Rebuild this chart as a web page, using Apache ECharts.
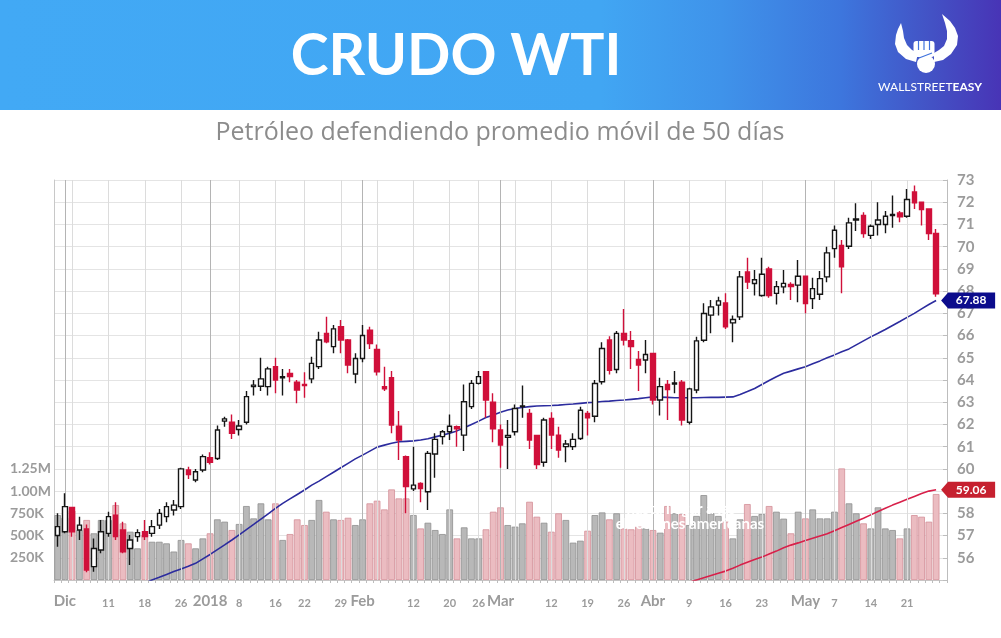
<!DOCTYPE html>
<html><head><meta charset="utf-8">
<script src="https://cdn.jsdelivr.net/npm/echarts@6/dist/echarts.min.js"></script>
<style>html,body{margin:0;padding:0;background:#fff}#c{width:1001px;height:638px}</style>
</head><body><div id="c"></div>
<script>
// ---------- DATA ----------
const dates = ['11-30','12-01','12-04','12-05','12-06','12-07','12-08','12-11','12-12','12-13','12-14','12-15','12-18','12-19','12-20','12-21','12-22','12-26','12-27','12-28','12-29',
'01-02','01-03','01-04','01-05','01-08','01-09','01-10','01-11','01-12','01-16','01-17','01-18','01-19','01-22','01-23','01-24','01-25','01-26','01-29','01-30','01-31',
'02-01','02-02','02-05','02-06','02-07','02-08','02-09','02-12','02-13','02-14','02-15','02-16','02-20','02-21','02-22','02-23','02-26','02-27','02-28',
'03-01','03-02','03-05','03-06','03-07','03-08','03-09','03-12','03-13','03-14','03-15','03-16','03-19','03-20','03-21','03-22','03-23','03-26','03-27','03-28','03-29',
'04-02','04-03','04-04','04-05','04-06','04-09','04-10','04-11','04-12','04-13','04-16','04-17','04-18','04-19','04-20','04-23','04-24','04-25','04-26','04-27','04-30',
'05-01','05-02','05-03','05-04','05-07','05-08','05-09','05-10','05-11','05-14','05-15','05-16','05-17','05-18','05-21','05-22','05-23','05-24','05-25','05-29'];

const openP = [57.0,57.17,58.27,57.25,57.3,55.6,56.35,57.1,57.92,57.25,56.42,56.95,57.17,57.1,57.47,57.85,58.15,58.3,59.95,59.5,59.95,
60.5,60.47,62.15,62.1,61.77,62.1,63.7,63.72,63.7,64.6,64.1,64.3,63.9,63.8,64.05,64.6,66.1,65.5,66.4,65.8,64.27,
64.97,66.24,65.37,63.7,64.1,61.92,60.55,59.1,59.35,58.97,60.67,61.45,61.67,61.9,61.52,62.8,63.85,64.37,63.0,
61.75,61.42,61.67,62.8,62.5,61.5,60.3,62.27,61.52,61.0,61.0,61.37,62.5,62.37,63.92,65.8,64.47,66.1,65.77,64.92,64.9,
65.2,63.1,63.8,63.82,63.9,62.1,63.55,65.79,66.92,67.37,67.47,66.57,66.84,68.86,68.34,67.8,69.0,67.9,68.19,68.3,68.27,
68.67,67.66,67.86,68.64,69.91,70.06,70.02,71.2,71.41,70.51,71.0,71.0,71.4,71.52,71.37,72.46,72.0,71.7,70.59];
const highP = [58.0,58.9,58.3,57.85,57.5,56.87,57.7,58.07,58.5,57.62,57.02,57.28,57.7,57.7,58.2,58.5,58.6,60.05,60.1,60.0,60.65,
60.75,61.95,62.35,62.45,62.2,63.5,64.0,65.0,64.6,65.0,64.5,64.5,64.0,64.35,65.05,66.17,66.85,66.47,66.7,65.85,65.2,
66.47,66.4,65.6,64.6,64.4,62.6,60.6,61.0,59.4,60.8,61.6,61.75,62.45,61.95,63.8,64.0,64.4,64.4,63.4,
62.0,62.2,62.9,63.75,62.7,61.5,62.3,62.55,61.9,61.3,61.6,62.8,62.6,64.0,65.7,65.97,66.2,67.2,66.2,65.3,65.8,
65.2,64.1,64.0,64.4,64.0,63.65,65.95,67.45,67.6,67.75,67.9,66.9,68.9,69.5,68.95,69.5,69.1,68.45,68.95,68.4,69.4,
68.7,68.6,68.9,70.0,70.95,70.3,71.3,71.95,71.55,71.0,72.0,71.6,72.3,71.6,72.6,72.75,72.0,71.7,70.8];
const lowP = [56.5,57.1,56.95,56.8,55.35,55.37,56.2,56.95,56.8,56.2,55.67,56.72,56.8,56.95,57.3,57.6,57.9,58.2,59.55,59.4,59.85,
60.2,60.4,61.9,61.35,61.5,62.0,63.3,63.5,63.3,63.4,63.3,63.9,62.95,63.2,63.85,64.5,65.65,65.2,65.2,64.3,63.85,
64.8,65.4,64.2,63.5,61.6,60.4,58.0,59.0,58.5,58.15,59.6,61.1,61.3,61.0,60.8,62.7,63.8,62.3,61.2,
60.05,60.0,61.5,62.3,60.9,60.0,60.1,60.9,60.5,60.3,60.85,61.3,61.5,62.1,63.8,64.25,64.3,65.55,64.5,63.5,64.3,
62.9,62.4,62.2,63.4,61.95,62.0,63.4,65.7,66.1,66.9,66.3,65.7,66.7,68.1,67.8,67.75,67.7,67.4,67.9,67.6,67.5,
67.0,67.2,67.6,68.4,69.5,67.9,69.9,70.7,70.4,70.35,70.5,70.6,70.85,71.1,71.3,71.7,70.95,70.3,67.75];
const closeP = [57.4,58.3,57.17,57.47,55.45,56.42,57.17,57.85,56.95,56.27,56.8,57.13,56.95,57.4,58.0,58.3,58.37,60.0,59.75,59.87,60.55,
60.3,61.75,62.25,61.6,61.93,63.25,63.77,64.05,64.5,64.0,64.15,64.15,63.55,63.75,64.75,65.8,65.72,66.3,65.8,64.67,64.97,
66.0,65.64,64.37,63.6,61.97,61.3,59.2,59.27,59.12,60.7,61.33,61.67,61.92,61.8,63.02,63.85,64.15,63.1,61.8,
61.07,61.5,62.72,62.83,61.3,60.2,62.2,61.52,60.85,61.12,61.33,62.64,62.3,63.84,65.42,64.44,66.1,65.8,65.5,64.67,65.15,
63.1,63.7,63.57,63.87,62.2,63.6,65.76,66.99,67.29,67.56,66.39,66.72,68.64,68.41,68.51,68.76,67.8,68.2,68.35,68.2,68.67,
67.44,68.11,68.56,69.72,70.74,69.09,71.07,71.25,70.59,70.92,71.2,71.37,71.45,71.34,72.12,71.97,71.67,70.59,67.88];
// volume in thousands of contracts
const volumeK = [730,700,780,560,675,525,675,675,843,637,543,356,505,430,430,412,320,450,412,356,468,
525,682,656,562,630,832,693,862,682,862,450,517,682,618,675,900,768,682,675,700,618,
682,862,892,794,1019,918,918,731,580,644,562,517,794,468,592,468,468,570,768,
817,618,600,637,880,712,644,543,750,675,420,442,554,730,760,682,750,580,570,600,580,
562,532,832,750,742,618,720,955,750,720,656,468,682,854,720,742,832,768,690,525,768,
693,794,693,693,768,1255,862,750,637,580,817,580,562,468,580,730,712,656,967];
// 50-day moving average (blue) and long average (red)
const ma50 = [null,null,null,null,null,null,null,null,null,null,null,null,54.85,55.0,55.12,55.25,55.38,55.5,55.62,55.75,55.95,
56.15,56.37,56.58,56.8,57.03,57.27,57.5,57.74,57.98,58.22,58.45,58.65,58.85,59.05,59.27,59.45,59.65,59.85,60.05,60.25,60.45,
60.62,60.8,60.98,61.07,61.15,61.22,61.24,61.26,61.3,61.36,61.44,61.52,61.6,61.71,61.85,62.0,62.15,62.31,62.43,
62.55,62.65,62.72,62.76,62.8,62.83,62.84,62.85,62.87,62.9,62.92,62.95,62.98,63.0,63.03,63.05,63.08,63.1,63.13,63.16,63.2,
63.24,63.23,63.22,63.2,63.2,63.2,63.2,63.21,63.22,63.22,63.23,63.24,63.35,63.48,63.62,63.8,63.98,64.15,64.3,64.4,64.5,
64.6,64.73,64.86,65.0,65.13,65.27,65.4,65.58,65.76,65.94,66.1,66.27,66.45,66.63,66.82,67.0,67.2,67.4,67.58];
const maLong = [null,null,null,null,null,null,null,null,null,null,null,null,null,null,null,null,null,null,null,null,null,
null,null,null,null,null,null,null,null,null,null,null,null,null,null,null,null,null,null,null,null,null,
null,null,null,null,null,null,null,null,null,null,null,null,null,null,null,null,null,null,null,
null,null,null,null,null,null,null,null,null,null,null,null,null,null,null,null,null,null,null,null,null,
null,null,null,null,null,54.9,55.0,55.1,55.2,55.3,55.4,55.53,55.67,55.8,55.92,56.03,56.17,56.3,56.45,56.57,56.67,
56.78,56.88,56.98,57.08,57.22,57.36,57.5,57.64,57.78,57.93,58.08,58.23,58.37,58.5,58.63,58.76,58.89,59.0,59.06];

const tickDates = ['12-01','12-11','12-18','12-26','01-02','01-08','01-16','01-22','01-29','02-01','02-12','02-20','02-26','03-01','03-12','03-19','03-26','04-02','04-09','04-16','04-23','05-01','05-07','05-14','05-21'];
const tickTexts = ['Dic','11','18','26','2018','8','16','22','29','Feb','12','20','26','Mar','12','19','26','Abr','9','16','23','May','7','14','21'];
const monthTexts = ['Dic','2018','Feb','Mar','Abr','May'];
const monthStarts = ['12-01','01-02','02-01','03-01','04-02','05-01'];
const weekStarts = ['12-04','12-11','12-18','12-26','01-08','01-16','01-22','01-29','02-05','02-12','02-20','02-26','03-05','03-12','03-19','03-26','04-09','04-16','04-23','05-07','05-14','05-21'];
const volumeTickLabels = {250000:'250K',500000:'500K',750000:'750K',1000000:'1.00M',1250000:'1.25M'};

// ---------- CHART ----------
const FONT = 'Lato, "Open Sans", "DejaVu Sans", sans-serif';
const chart = echarts.init(document.getElementById('c'));
const last = closeP.length - 1;
const candleData = closeP.map((c,i)=>[openP[i], c, lowP[i], highP[i]]);
const volData = volumeK.map((v,i)=>({
  value: v*1000,
  itemStyle: closeP[i] < openP[i]
    ? {color:'#ebbcc1', borderColor:'#d38f98'}
    : {color:'#b8b8b8', borderColor:'#8f8f8f'}
}));
const TAG = 'path://M0,8 L7,0 L54,0 L54,16 L7,16 Z';

chart.setOption({
  animation:false,
  backgroundColor:'#ffffff',
  grid:{left:54, right:54, top:180, bottom:58, containLabel:false},
  xAxis:{
    type:'category', data:dates, boundaryGap:true,
    axisLine:{show:true, lineStyle:{color:'#c8c8c8'}},
    axisTick:{show:true, interval:0, length:3, lineStyle:{color:'#bdbdbd'}},
    splitLine:{show:false},
    axisLabel:{
      margin:14,
      interval:(idx,val)=>tickDates.indexOf(val)>=0,
      formatter:(val)=>{const k=tickDates.indexOf(val); if(k<0) return ''; const t=tickTexts[k];
        return monthTexts.indexOf(t)>=0 ? '{m|'+t+'}' : '{d|'+t+'}';},
      rich:{
        m:{fontFamily:FONT, fontWeight:'bold', fontSize:15, color:'#9b9b9b'},
        d:{fontFamily:FONT, fontWeight:'bold', fontSize:11, color:'#9b9b9b', padding:[4,0,0,0]}
      }
    }
  },
  yAxis:[
    {type:'value', position:'right', min:55, max:73, interval:1,
     axisLine:{show:true, lineStyle:{color:'#bdbdbd'}},
     axisTick:{show:true, inside:true, length:4, lineStyle:{color:'#bdbdbd'}},
     splitLine:{show:true, lineStyle:{color:'#e4e4e4', width:1}},
     axisLabel:{margin:10, color:'#9b9b9b', fontFamily:FONT, fontWeight:'bold', fontSize:15,
       formatter:(v)=> v===55 ? '' : String(v)}},
    {type:'value', position:'left', min:0, max:4500000, interval:250000,
     axisLine:{show:true, lineStyle:{color:'#c8c8c8'}},
     axisTick:{show:false}, splitLine:{show:false},
     axisLabel:{margin:44, align:'left', color:'#9b9b9b', fontFamily:FONT, fontWeight:'bold', fontSize:14,
       formatter:(v)=> volumeTickLabels[v] || ''}}
  ],
  series:[
    {name:'grid', type:'line', data:dates.map(()=>null), z:0, silent:true,
     markLine:{silent:true, symbol:['none','none'], label:{show:false}, animation:false,
       lineStyle:{color:'#dcdcdc', width:1, type:'solid'},
       data: weekStarts.map(d=>({xAxis: dates.indexOf(d)}))}},
    {name:'gridMonth', type:'line', data:dates.map(()=>null), z:0, silent:true,
     markLine:{silent:true, symbol:['none','none'], label:{show:false}, animation:false,
       lineStyle:{color:'#b4b4b4', width:1, type:'solid'},
       data: monthStarts.map(d=>({xAxis: dates.indexOf(d)}))}},
    {name:'Volumen', type:'bar', yAxisIndex:1, data:volData, barCategoryGap:'8%', z:1,
     itemStyle:{borderWidth:0.8}},
    {name:'Media larga', type:'line', yAxisIndex:0, data:maLong, symbol:'none', z:3,
     lineStyle:{color:'#d8204a', width:1.6},
     markPoint:{symbol:TAG, symbolSize:[54,16], symbolOffset:[32,0], silent:true, symbolKeepAspect:false,
       itemStyle:{color:'#c6202f'},
       label:{show:true, position:'inside', offset:[3,0], color:'#fff', fontFamily:FONT, fontWeight:'bold', fontSize:12,
         formatter:()=>maLong[last].toFixed(2)},
       data:[{coord:[last, maLong[last]]}]}},
    {name:'Media 50', type:'line', yAxisIndex:0, data:ma50, symbol:'none', z:3,
     lineStyle:{color:'#2c2c9e', width:1.6},
     markPoint:{symbol:TAG, symbolSize:[54,16], symbolOffset:[32,0], silent:true, symbolKeepAspect:false,
       itemStyle:{color:'#0c0c8c'},
       label:{show:true, position:'inside', offset:[3,0], color:'#fff', fontFamily:FONT, fontWeight:'bold', fontSize:12,
         formatter:()=>closeP[last].toFixed(2)},
       data:[{coord:[last, ma50[last]]}]}},
    {name:'WTI', type:'candlestick', yAxisIndex:0, data:candleData, barWidth:5, z:5,
     itemStyle:{color:'#ffffff', color0:'#d0103a', borderColor:'#151515', borderColor0:'#d0103a', borderWidth:1.4}}
  ],
  graphic:[
    {type:'rect', id:'hdr', z:-1, shape:{x:0,y:0,width:1001,height:110},
     style:{fill:new echarts.graphic.LinearGradient(0,0,1,0,[
       {offset:0,color:'#42a9f5'},{offset:0.6,color:'#41a6f3'},{offset:0.72,color:'#3f93ea'},
       {offset:0.84,color:'#3d76dd'},{offset:0.93,color:'#4352c5'},{offset:1,color:'#4834b6'}])}},
    {type:'text', id:'title', x:456, y:57, z:10,
     style:{text:'CRUDO WTI', fill:'#ffffff', fontFamily:FONT, fontWeight:'bold', fontSize:57, align:'center', verticalAlign:'middle'}},
    {type:'text', id:'sub', x:500, y:133, z:10,
     style:{text:'Petróleo defendiendo promedio móvil de 50 días', fill:'#8c8c8c', fontFamily:'"Open Sans", Lato, sans-serif', fontSize:25, align:'center', verticalAlign:'middle'}},
    {type:'polygon', id:'hornL', z:10, shape:{points:[[916,62],[906,59],[898,52],[895,44],[896,35],[898,29],[901,23],[903,31],[904,38],[907,45],[912,50],[918,53]]}, style:{fill:'#fff'}},
    {type:'polygon', id:'hornR', z:10, shape:{points:[[934,62],[943,60],[951,54],[957,45],[958,36],[955,28],[950,21],[942,14],[945,23],[947,31],[947,39],[944,46],[939,50],[934,53]]}, style:{fill:'#fff'}},
    {type:'rect', id:'fist', z:10, shape:{x:913.5,y:41,width:21,height:16,r:3}, style:{fill:'#fff'}},
    {type:'circle', id:'palm', z:10, shape:{cx:926,cy:64,r:9}, style:{fill:'#fff'}},
    {type:'line', id:'f1', z:11, shape:{x1:918.5,y1:41,x2:918.5,y2:50}, style:{stroke:'#3f72dd', lineWidth:1.2}},
    {type:'line', id:'f2', z:11, shape:{x1:924,y1:41,x2:924,y2:50}, style:{stroke:'#3f72dd', lineWidth:1.2}},
    {type:'line', id:'f3', z:11, shape:{x1:929.5,y1:41,x2:929.5,y2:50}, style:{stroke:'#3f72dd', lineWidth:1.2}},
    {type:'line', id:'th', z:11, shape:{x1:919,y1:58,x2:932,y2:53}, style:{stroke:'#3f72dd', lineWidth:1.2}},
    {type:'text', id:'brand', z:10, x:930, y:87, style:{text:'{a|WALLSTREET}{b|EASY}', align:'center', verticalAlign:'middle',
        rich:{a:{fill:'#fff', fontFamily:FONT, fontWeight:'normal', fontSize:12}, b:{fill:'#fff', fontFamily:FONT, fontWeight:'bold', fontSize:12}}}},
    {type:'text', id:'ov1', x:681, y:509, z:50,
     style:{text:'hasta llegar a las', fill:'#ffffff', fontFamily:FONT, fontWeight:'bold', fontSize:15, align:'center', verticalAlign:'middle'}},
    {type:'text', id:'ov2', x:690, y:524, z:50,
     style:{text:'elecciones americanas', fill:'#ffffff', fontFamily:FONT, fontWeight:'bold', fontSize:15, align:'center', verticalAlign:'middle'}}
  ]
});
</script></body></html>
